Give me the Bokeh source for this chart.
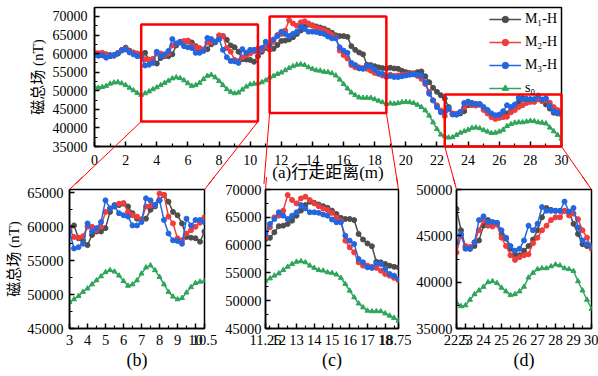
from bokeh.plotting import figure
from bokeh.layouts import column, row
from bokeh.models import FixedTicker, Legend, LegendItem, Range1d
from bokeh.embed import file_html
from bokeh.resources import INLINE

# ---------------- data ----------------
distance = [round(0.25 * i, 2) for i in range(121)]  # walking distance (m), sampled every 0.25 m

m1_h = [
    60000, 60000, 59800, 59800, 59600, 59600, 60000, 60800, 61600, 60800, 60300, 60000,
    59800, 60200, 58300, 58000, 57300, 58800, 59300, 59300, 59800, 62200, 63200, 63200,
    63400, 63000, 62000, 61200, 61100, 61200, 62500, 63000, 63900, 64700, 63700, 62200,
    61700, 60500, 58500, 58400, 58300, 57800, 59300, 60500, 61500, 61100, 61300, 62300,
    63400, 63500, 63800, 64400, 65300, 66200, 67200, 67800, 67600, 67300, 67000, 66700,
    66200, 65600, 64900, 64700, 64700, 64500, 62000, 61000, 60300, 59800, 57000, 56900,
    56600, 56300, 56100, 56000, 56200, 56000, 55900, 55400, 55000, 54800, 54700, 55000,
    55200, 53900, 52300, 50800, 49700, 48800, 47900, 45600, 43800, 43600, 43900, 44500,
    46100, 46700, 46300, 46400, 45200, 44700, 43600, 43000, 42900, 43400, 43900, 44600,
    45600, 47000, 48000, 47800, 47700, 47700, 47700, 47600, 46300, 45200, 44100, 43900,
    43900]
m2_h = [
    60300, 60100, 60200, 59600, 59300, 59400, 60200, 60900, 61300, 60600, 60200, 60000,
    59600, 58500, 58400, 58600, 60000, 60000, 59500, 60000, 62200, 62700, 63000, 63400,
    63500, 62200, 61700, 61500, 61000, 63000, 63100, 63200, 64900, 64700, 61500, 60500,
    58300, 58000, 59000, 59500, 60000, 60600, 61400, 61000, 62000, 61400, 63200, 65000,
    65300, 66200, 69000, 68100, 67500, 68400, 68700, 68100, 67500, 67000, 66600, 66300,
    65800, 65000, 64400, 60800, 59600, 58700, 56900, 56300, 56300, 56100, 55900, 55400,
    54800, 54500, 54100, 53700, 54300, 54000, 54100, 54300, 54400, 54500, 54500, 54000,
    53200, 51800, 49700, 47400, 46100, 44700, 43200, 45000, 43900, 43800, 44300, 45600,
    46700, 46100, 46000, 46200, 44800, 43900, 42900, 42400, 42700, 42900, 43000, 44200,
    44800, 45600, 46100, 46700, 47000, 47000, 47700, 47200, 47400, 46800, 45600, 44800,
    43600]
m3_h = [
    59600, 59400, 59500, 58900, 59300, 59500, 60000, 61000, 61100, 60300, 59800, 59300,
    59300, 56800, 57000, 57500, 60500, 59300, 59800, 60700, 63900, 62700, 63000, 62000,
    61700, 61500, 60200, 60200, 60700, 64200, 63900, 63200, 63900, 61000, 59000, 58000,
    57900, 57500, 61200, 60200, 61000, 61000, 60700, 61500, 63200, 62000, 63800, 64700,
    65900, 65300, 64700, 65300, 65900, 67200, 66600, 65900, 65900, 65800, 65500, 65300,
    64600, 64100, 64100, 61700, 60800, 60200, 57500, 56900, 56000, 55900, 56700, 56600,
    55700, 54800, 54500, 53900, 54000, 53700, 53700, 53900, 54100, 54300, 54400, 54300,
    54100, 52300, 49200, 47400, 45600, 44200, 44300, 45200, 43600, 43600, 44300, 46700,
    47100, 46500, 46500, 46400, 45600, 44800, 43900, 43400, 43600, 44500, 46100, 45600,
    46300, 48100, 47700, 47700, 47700, 47700, 48700, 47600, 48000, 45900, 44500, 44100,
    43900]
s0 = [
    51000, 50800, 51000, 51300, 51900, 52200, 52300, 52000, 51500, 50800, 50100, 49400,
    48900, 49300, 49800, 50400, 50900, 51500, 52100, 52700, 53300, 53600, 53400, 52800,
    52000, 51300, 51500, 52100, 53100, 54000, 54300, 53600, 52600, 51500, 50400, 49700,
    49300, 49500, 50300, 51100, 51700, 51900, 52000, 52300, 52800, 53600, 54000, 54500,
    54900, 55500, 56100, 56600, 57000, 57100, 56900, 56300, 55900, 55500, 55400, 55100,
    55000, 54700, 54100, 53000, 51800, 50600, 49500, 48800, 48200, 48100, 48100, 48100,
    47700, 47300, 46900, 46400, 46600, 46500, 46700, 46900, 47000, 46900, 46700, 46200,
    45600, 44700, 43300, 41500, 39700, 38200, 37800, 37400, 37500, 38100, 38700, 39100,
    39500, 40000, 40100, 39900, 39400, 39000, 38600, 38700, 39000, 39500, 40500, 41000,
    41400, 41500, 41500, 41700, 41900, 41800, 41500, 41400, 41200, 40100, 39100, 38100,
    37100]

series = [m1_h, m2_h, m3_h, s0]
series_names = ["M\u2081-H", "M\u2082-H", "M\u2083-H", "s\u2080"]
series_markers = ["circle", "circle", "circle", "triangle"]
series_colors = ["#4d4d4d", "#f03c3c", "#2466e0", "#2fa55a"]

main_x_ticks = [0, 2, 4, 6, 8, 10, 12, 14, 16, 18, 20, 22, 24, 26, 28, 30]
main_x_labels = ["0", "2", "4", "6", "8", "10", "12", "14", "16", "18", "20", "22", "24", "26", "28", "30"]
main_x_minor = [1, 3, 5, 7, 9, 11, 13, 15, 17, 19, 21, 23, 25, 27, 29]
main_y_ticks = [35000, 40000, 45000, 50000, 55000, 60000, 65000, 70000]
main_y_labels = ["35000", "40000", "45000", "50000", "55000", "60000", "65000", "70000"]
main_y_minor = [37500, 42500, 47500, 52500, 57500, 62500, 67500, 72500]
main_x_range = (0, 30)
main_y_range = (35000, 72400)
main_x_title = "(a)行走距离(m)"
y_title = "磁总场 (nT)"

# zoom boxes drawn on the main chart (data units)
zoom_x = [(3, 10.5), (11.25, 18.75), (22.5, 30)]
zoom_box_y = [(41700, 67800), (44000, 70000), (35000, 49000)]

# the three detail panels
panel_y_range = [(45000, 65500), (45000, 70000), (35000, 50000)]
panel_x_ticks = [
    [3, 4, 5, 6, 7, 8, 9, 10, 10.5],
    [11.25, 12, 13, 14, 15, 16, 17, 18, 18.75],
    [22.5, 23, 24, 25, 26, 27, 28, 29, 30],
]
panel_x_labels = [
    ["3", "4", "5", "6", "7", "8", "9", "10", "10.5"],
    ["11.25", "12", "13", "14", "15", "16", "17", "18", "18.75"],
    ["22.5", "23", "24", "25", "26", "27", "28", "29", "30"],
]
panel_x_minor = [
    [3.5, 4.5, 5.5, 6.5, 7.5, 8.5, 9.5],
    [11.5, 12.5, 13.5, 14.5, 15.5, 16.5, 17.5, 18.5],
    [23.5, 24.5, 25.5, 26.5, 27.5, 28.5, 29.5],
]
panel_y_ticks = [
    [45000, 50000, 55000, 60000, 65000],
    [45000, 50000, 55000, 60000, 65000, 70000],
    [35000, 40000, 45000, 50000],
]
panel_y_labels = [[str(t) for t in ticks] for ticks in panel_y_ticks]
panel_y_minor = [
    [47500, 52500, 57500, 62500],
    [47500, 52500, 57500, 62500, 67500],
    [37500, 42500, 47500],
]
panel_titles = ["(b)", "(c)", "(d)"]

# ---------------- layout (pixels) ----------------
W = 598
MAIN_H = 184
MAIN_B = dict(left=94, right=37, top=7, bottom=38)
OVERLAP = 7          # panels' transparent top border overlaps the main canvas
SUB_TOP = 12
SUB_BOTTOM = 48
SUB_H = 199
panel_w = [222, 189, 187]
panel_bl = [69, 41, 45]
panel_br = [18, 13, 7]
panel_off = [0, 222, 411]

FONT = "Liberation Serif"
CJK_FONT = "Liberation Serif, Noto Sans CJK SC"
RED = "#ff0000"


def main_frame():
    return (MAIN_B["left"], W - MAIN_B["right"], MAIN_B["top"], MAIN_H - MAIN_B["bottom"])


def panel_frame(i):
    x0 = panel_off[i] + panel_bl[i]
    x1 = panel_off[i] + panel_w[i] - panel_br[i]
    y0 = MAIN_H - OVERLAP + SUB_TOP
    y1 = MAIN_H - OVERLAP + SUB_H - SUB_BOTTOM
    return (x0, x1, y0, y1)


def to_page(frame, xr, yr, x, y):
    fx0, fx1, fy0, fy1 = frame
    px = fx0 + (x - xr[0]) / (xr[1] - xr[0]) * (fx1 - fx0)
    py = fy0 + (yr[1] - y) / (yr[1] - yr[0]) * (fy1 - fy0)
    return px, py


def from_page(frame, xr, yr, px, py):
    fx0, fx1, fy0, fy1 = frame
    x = xr[0] + (px - fx0) / (fx1 - fx0) * (xr[1] - xr[0])
    y = yr[1] - (py - fy0) / (fy1 - fy0) * (yr[1] - yr[0])
    return x, y


def style_axis(ax, ticks, labels, minor, size, standoff):
    ax.ticker = FixedTicker(ticks=ticks, minor_ticks=minor)
    ax.major_label_overrides = {t: l for t, l in zip(ticks, labels)}
    ax.major_tick_in = 5
    ax.major_tick_out = 0
    ax.minor_tick_in = 3
    ax.minor_tick_out = 0
    ax.axis_line_width = 1.5
    ax.axis_line_color = "black"
    ax.major_tick_line_width = 1.5
    ax.minor_tick_line_width = 1.2
    ax.major_label_text_font = FONT
    ax.major_label_text_font_size = size
    ax.major_label_text_color = "black"
    ax.major_label_standoff = standoff
    ax.axis_label_text_font = CJK_FONT
    ax.axis_label_text_font_style = "normal"
    ax.axis_label_text_color = "black"


def style_fig(p, transparent_border=False):
    p.xgrid.visible = False
    p.ygrid.visible = False
    p.outline_line_color = "black"
    p.outline_line_width = 1.5
    p.outline_line_alpha = 1
    p.background_fill_color = "white"
    p.border_fill_color = "white"
    if transparent_border:
        p.border_fill_alpha = 0


def draw_series(p):
    items = []
    for vals, name, mk, col in zip(series, series_names, series_markers, series_colors):
        ln = p.line(distance, vals, line_color=col, line_width=1.5)
        sc = p.scatter(distance, vals, marker=mk, size=5, fill_color=col, line_color=col)
        items.append(LegendItem(label=name, renderers=[ln, sc]))
    return items


# ---------------- main chart ----------------
main = figure(width=W, height=MAIN_H, x_range=Range1d(*main_x_range), y_range=Range1d(*main_y_range),
              output_backend="svg", toolbar_location=None,
              min_border_left=MAIN_B["left"], min_border_right=MAIN_B["right"],
              min_border_top=MAIN_B["top"], min_border_bottom=MAIN_B["bottom"])
style_fig(main)
style_axis(main.xaxis[0], main_x_ticks, main_x_labels, main_x_minor, "14px", 8)
style_axis(main.yaxis[0], main_y_ticks, main_y_labels, main_y_minor, "14px", 7)
main.xaxis[0].axis_label = main_x_title
main.xaxis[0].axis_label_text_font_size = "17px"
main.xaxis[0].axis_label_standoff = -5
main.yaxis[0].axis_label = y_title
main.yaxis[0].axis_label_text_font_size = "15px"
main.yaxis[0].axis_label_standoff = 4

items = draw_series(main)
legend = Legend(items=items, location="top_right", glyph_width=32, glyph_height=16, label_height=16,
                spacing=7, padding=0, margin=4, label_standoff=4, border_line_alpha=0,
                background_fill_alpha=0, label_text_font=FONT, label_text_font_size="14px",
                label_text_color="black")
main.add_layout(legend)

main.quad(left=[a for a, b in zoom_x], right=[b for a, b in zoom_x],
          bottom=[a for a, b in zoom_box_y], top=[b for a, b in zoom_box_y],
          fill_alpha=0, line_color=RED, line_width=2.5, level="overlay")

# ---------------- detail panels ----------------
panels = []
for i in range(3):
    xr = zoom_x[i]
    yr = panel_y_range[i]
    p = figure(width=panel_w[i], height=SUB_H, x_range=Range1d(*xr), y_range=Range1d(*yr),
               output_backend="svg", toolbar_location=None,
               min_border_left=panel_bl[i], min_border_right=panel_br[i],
               min_border_top=SUB_TOP, min_border_bottom=SUB_BOTTOM)
    style_fig(p, transparent_border=True)
    style_axis(p.xaxis[0], panel_x_ticks[i], panel_x_labels[i], panel_x_minor[i], "14.5px", 6)
    style_axis(p.yaxis[0], panel_y_ticks[i], panel_y_labels[i], panel_y_minor[i], "14.5px", 6 if i == 0 else 4)
    p.xaxis[0].axis_label = panel_titles[i]
    p.xaxis[0].axis_label_text_font_size = "18px"
    p.xaxis[0].axis_label_standoff = 2
    if i == 0:
        p.yaxis[0].axis_label = y_title
        p.yaxis[0].axis_label_text_font_size = "15px"
        p.yaxis[0].axis_label_standoff = 2
    draw_series(p)

    # connector lines from the zoom box on the main chart to this panel
    mf = main_frame()
    pf = panel_frame(i)
    xb0, xb1 = zoom_x[i]
    yb = zoom_box_y[i][0]
    corner_l = to_page(mf, main_x_range, main_y_range, xb0, yb)
    corner_r = to_page(mf, main_x_range, main_y_range, xb1, yb)
    top_l = (pf[0], pf[2])
    top_r = (pf[1], pf[2])
    a = from_page(mf, main_x_range, main_y_range, *top_l)
    b = from_page(mf, main_x_range, main_y_range, *top_r)
    main.segment(x0=[xb0, xb1], y0=[yb, yb], x1=[a[0], b[0]], y1=[a[1], b[1]],
                 line_color=RED, line_width=1, level="overlay")
    c0 = from_page(pf, xr, yr, *corner_l)
    c1 = from_page(pf, xr, yr, *corner_r)
    p.segment(x0=[c0[0], c1[0]], y0=[c0[1], c1[1]], x1=[xr[0], xr[1]], y1=[yr[1], yr[1]],
              line_color=RED, line_width=1, level="overlay")
    panels.append(p)

bottom_row = row(*panels, spacing=0, styles={"margin-top": "-%dpx" % OVERLAP})
layout = column(main, bottom_row, spacing=0)
open("out.html", "w").write(file_html(layout, INLINE))
